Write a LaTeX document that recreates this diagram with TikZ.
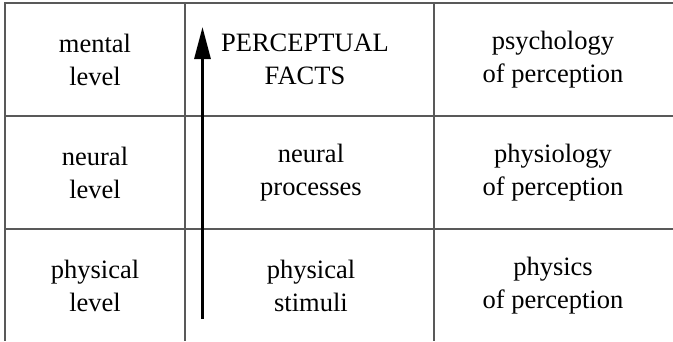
\documentclass[tikz,border=0pt]{standalone}
\usepackage{fontspec}
\setmainfont{Liberation Serif}
\usetikzlibrary{arrows.meta, positioning}
\tikzstyle{cell} = [align=center, font=\fontsize{26.5}{33}\selectfont, inner sep=0pt]
\tikzstyle{gridline} = [line width=1.2pt, draw=black!65]
\tikzstyle{arrow} = [line width=3pt, -{Triangle[length=32pt, width=16pt]}]

\begin{document}
\begin{tikzpicture}[x=1pt, y=-1pt, node distance=113pt]
    \useasboundingbox (0,0) rectangle (673,341);
    % grid
    \draw [gridline] (673,3) -- (5,3) -- (5,341);
    \draw [gridline] (5,116) -- (673,116);
    \draw [gridline] (5,229) -- (673,229);
    \draw [gridline] (185,3) -- (185,341);
    \draw [gridline] (434,3) -- (434,341);

    % levels
    \node (mental) [cell] at (95,59.5) {mental\\level};
    \node (neural) [cell, below of=mental] {neural\\level};
    \node (physical) [cell, below of=neural] {physical\\level};

    % facts
    \node (facts) [cell, right of=mental, node distance=210pt] {PERCEPTUAL\\FACTS};
    \node (processes) [cell, right of=neural, node distance=216pt] {neural\\processes};
    \node (stimuli) [cell, right of=physical, node distance=216pt] {physical\\stimuli};

    % sciences
    \node (psychology) [cell, right of=facts, node distance=248pt] {psychology\\of perception};
    \node (physiology) [cell, right of=processes, node distance=242pt] {physiology\\of perception};
    \node (physics) [cell, right of=stimuli, node distance=242pt] {physics\\of perception};

    \coordinate (arrow_start) at (202.5,319);
    \coordinate (arrow_end) at (202.5,27);
    \draw [arrow] (arrow_start) -- (arrow_end);
\end{tikzpicture}
\end{document}
